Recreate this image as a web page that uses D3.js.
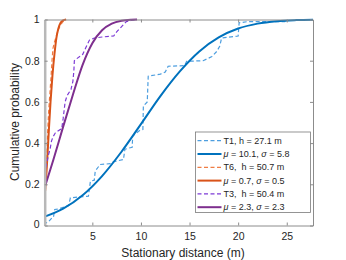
<!DOCTYPE html>
<html>
<head>
<meta charset="utf-8">
<script src="https://cdn.jsdelivr.net/npm/d3@7"></script>
<style>
  body { margin: 0; background: #fff; }
  text { font-family: "Liberation Sans", Arial, Helvetica, sans-serif; fill: #262626; }
</style>
</head>
<body>
<div id="main"></div>
<script>
// ---- data ----
var xTicks = [5, 10, 15, 20, 25];
var yTicks = [0, 0.2, 0.4, 0.6, 0.8, 1];

var siteNames = ["T1", "T6", "T3"];
var siteHeights = ["27.1", "50.7", "50.4"];
var fitMu = ["10.1", "0.7", "2.3"];
var fitSigma = ["5.8", "0.5", "2.3"];

// empirical CDFs (dashed), [distance, probability]
var ecdfT1 = [[0.15,0.0],[0.2,0.012],[0.45,0.016],[0.85,0.037],[1.0,0.04],[1.13,0.078],[1.5,0.08],[2.0,0.088],
  [2.57,0.097],[2.74,0.134],[3.5,0.138],[4.6,0.142],[4.8,0.215],[5.2,0.22],[5.3,0.264],[5.8,0.296],[6.85,0.30],
  [7.2,0.31],[8.2,0.32],[8.35,0.37],[8.7,0.375],[9.1,0.38],[9.15,0.434],[9.9,0.462],[10.2,0.466],[10.25,0.58],
  [10.65,0.6],[10.75,0.725],[12.0,0.735],[12.5,0.745],[12.8,0.773],[14.5,0.776],[14.7,0.797],[16.4,0.8],
  [17.3,0.82],[17.8,0.845],[18.1,0.87],[18.3,0.91],[20.0,0.92],[20.1,0.984],[21,0.99],[24.8,0.99],[25.0,1.0]];
var ecdfT6 = [[0.1,0.07],[0.15,0.12],[0.2,0.2],[0.3,0.3],[0.4,0.45],[0.5,0.55],[0.6,0.62],[0.75,0.72],
  [0.85,0.8],[0.95,0.86],[1.1,0.89],[1.3,0.92],[1.5,0.95],[1.7,0.97],[1.9,0.985],[2.1,0.995],[2.3,1.0]];
var ecdfT3 = [[0.1,0.25],[0.3,0.30],[0.5,0.345],[0.65,0.37],[0.8,0.41],[0.95,0.43],[1.2,0.45],[1.5,0.46],
  [1.85,0.47],[2.0,0.52],[2.1,0.56],[2.2,0.6],[2.4,0.63],[2.8,0.66],[3.0,0.70],[3.1,0.75],[3.15,0.80],
  [3.4,0.81],[3.7,0.82],[4.0,0.83],[4.3,0.86],[4.7,0.90],[5.2,0.91],[6.0,0.915],[7.2,0.92],[7.5,0.94],
  [7.8,0.955],[8.2,0.975],[8.5,0.99],[9.0,0.995],[9.5,1.0]];

// fitted curves (solid)
var fitT1 = [[0.1,0.043],[2,0.082],[4,0.147],[6,0.24],[8,0.358],[10,0.492],[12,0.628],[14,0.748],[16,0.845],
  [18,0.913],[20,0.956],[22,0.98],[24,0.992],[26,0.997],[27.7,0.999]];
var fitT6 = [[0.1,0.145],[0.3,0.27],[0.5,0.44],[0.7,0.6],[0.9,0.73],[1.1,0.83],[1.3,0.91],[1.5,0.955],
  [1.75,0.985],[2.0,0.996],[2.3,1.0]];
var fitT3 = [[0.1,0.185],[1,0.32],[2,0.48],[3,0.635],[4,0.78],[5,0.885],[6,0.948],[7,0.98],[8,0.994],
  [9,0.999],[9.6,1.0]];

var dashColors = ["#4d9edf", "#ef7d45", "#7d3bd6"];
var fitColors = ["#0072bd", "#d95319", "#7e2f8e"];

// ---- drawing ----
var svg = d3.select("#main").append("svg")
  .attr("width", 346)
  .attr("height", 260);

svg.append("rect").attr("width", 346).attr("height", 260).attr("fill", "#fff");

var x = d3.scaleLinear().domain([0.1, 27.7]).range([44.7, 313]);
var y = d3.scaleLinear().domain([0, 1]).range([225.5, 19.5]);

svg.append("clipPath").attr("id", "plotclip")
  .append("rect")
  .attr("x", x.range()[0]).attr("y", y.range()[1] - 2)
  .attr("width", x.range()[1] - x.range()[0])
  .attr("height", y.range()[0] - y.range()[1] + 2);

var lineLin = d3.line().x(function(d) { return x(d[0]); }).y(function(d) { return y(d[1]); });
var lineSmooth = d3.line().x(function(d) { return x(d[0]); }).y(function(d) { return y(d[1]); })
  .curve(d3.curveMonotoneX);

var plot = svg.append("g").attr("clip-path", "url(#plotclip)");

var ecdfs = [ecdfT1, ecdfT6, ecdfT3];
var fits = [fitT1, fitT6, fitT3];

ecdfs.forEach(function(pts, i) {
  plot.append("path")
    .attr("d", lineLin(pts))
    .attr("fill", "none")
    .attr("stroke", dashColors[i])
    .attr("stroke-width", 1.2)
    .attr("stroke-dasharray", "4,2.5");
  plot.append("path")
    .attr("d", lineSmooth(fits[i]))
    .attr("fill", "none")
    .attr("stroke", fitColors[i])
    .attr("stroke-width", 2);
});

// axes
var gx = svg.append("g").attr("transform", "translate(0," + y.range()[0] + ")")
  .call(d3.axisBottom(x).tickValues(xTicks).tickSizeInner(-3).tickSizeOuter(0).tickPadding(7));
var gxTop = svg.append("g").attr("transform", "translate(0," + y.range()[1] + ")")
  .call(d3.axisTop(x).tickValues(xTicks).tickSizeInner(-3).tickSizeOuter(0).tickFormat(""));
var gy = svg.append("g").attr("transform", "translate(" + x.range()[0] + ",0)")
  .call(d3.axisLeft(y).tickValues(yTicks).tickSizeInner(-3).tickSizeOuter(0).tickPadding(5)
    .tickFormat(d3.format("~g")));
var gyRight = svg.append("g").attr("transform", "translate(" + x.range()[1] + ",0)")
  .call(d3.axisRight(y).tickValues(yTicks).tickSizeInner(-3).tickSizeOuter(0).tickFormat(""));

[gx, gxTop, gy, gyRight].forEach(function(g) {
  g.selectAll("path.domain").attr("stroke", "#8c8c8c").attr("stroke-width", 1);
  g.selectAll(".tick line").attr("stroke", "#8c8c8c");
  g.selectAll("text").attr("font-size", "10.5px").attr("fill", "#262626")
    .attr("font-family", "'Liberation Sans', Arial, sans-serif");
});
gy.select("path.domain").attr("stroke", "#b8b8b8").attr("stroke-width", 2.5);
gy.selectAll(".tick text").filter(function(d) { return d === 0; }).attr("dy", "0.2em");

// axis labels
svg.append("text")
  .attr("x", 183).attr("y", 256.5)
  .attr("text-anchor", "middle")
  .attr("font-size", "12px")
  .text("Stationary distance (m)");

svg.append("text")
  .attr("transform", "translate(19,122) rotate(-90)")
  .attr("text-anchor", "middle")
  .attr("font-size", "12px")
  .text("Cumulative probability");

// legend
var legend = svg.append("g");
legend.append("rect")
  .attr("x", 195.5).attr("y", 132)
  .attr("width", 115).attr("height", 80.5)
  .attr("fill", "#fff")
  .attr("stroke", "#7a7a7a")
  .attr("stroke-width", 0.8);

var rows = [];
siteNames.forEach(function(n, i) {
  rows.push({ kind: "ecdf", i: i });
  rows.push({ kind: "fit", i: i });
});

rows.forEach(function(r, k) {
  var cy = 140.7 + k * 13.3;
  legend.append("line")
    .attr("x1", 197.5).attr("x2", 221.5)
    .attr("y1", cy).attr("y2", cy)
    .attr("stroke", r.kind === "ecdf" ? dashColors[r.i] : fitColors[r.i])
    .attr("stroke-width", r.kind === "ecdf" ? 1.2 : 2)
    .attr("stroke-dasharray", r.kind === "ecdf" ? "4,2.5" : null);
  var t = legend.append("text")
    .attr("x", 223.5).attr("y", cy)
    .attr("dy", "0.35em")
    .attr("font-size", "9px")
    .style("white-space", "pre");
  if (r.kind === "ecdf") {
    t.text(siteNames[r.i] + ", " + (siteNames[r.i] === "T1" ? "" : " ") + "h = " + siteHeights[r.i] + " m");
  } else {
    t.append("tspan").attr("font-style", "italic").text("\u03bc");
    t.append("tspan").text(" = " + fitMu[r.i] + ", ");
    t.append("tspan").attr("font-style", "italic").text("\u03c3");
    t.append("tspan").text(" = " + fitSigma[r.i]);
  }
});
</script>
</body>
</html>
